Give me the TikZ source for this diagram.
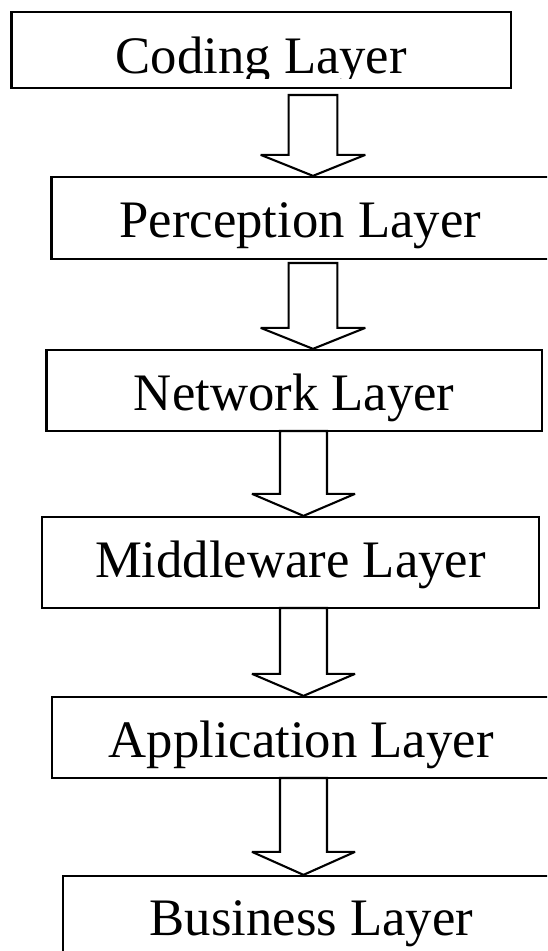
\documentclass[tikz,border=0pt]{standalone}
\usepackage{fontspec}
\setmainfont{Liberation Serif}
\usetikzlibrary{calc}
\tikzset{
  layerbox/.style={draw=black, line width=2.3pt, inner sep=0pt, fill=white,
    font=\fontsize{52.7}{60}\selectfont, text depth=0pt, text height=#1},
  layerbox/.default=38pt,
  layertext/.style={inner sep=0pt, font=\fontsize{52.7}{60}\selectfont,
    text depth=0pt, text height=#1},
  barrow/.style={draw=black, line width=2.1pt, line join=miter, miter limit=3, fill=white},
}
\newcommand{\blockarrow}[5]{%
  \draw[barrow] let \p1=(#1), \p2=(#2) in
    (\x1-#3,\y1) -- (\x1-#3,\y2+#5) -- (\x1-#4,\y2+#5) -- (\x1,\y2)
    -- (\x1+#4,\y2+#5) -- (\x1+#3,\y2+#5) -- (\x1+#3,\y1) -- cycle;}
\begin{document}
\begin{tikzpicture}[x=1pt,y=-1pt]
\useasboundingbox[fill=white] (0,0) rectangle (547,951);
\begin{scope}
\clip (0,0) rectangle (547,951);
% layer boxes
\node[layerbox=46pt, minimum width=499.5pt, minimum height=76pt] (b1) at (261.25,50) {};
\node[layerbox=38pt, minimum width=497.4pt, minimum height=82pt] (b2) at (300.3,218) {Perception Layer};
\node[layerbox=39pt, minimum width=495.6pt, minimum height=81pt] (b3) at (294.2,390.5) {Network Layer};
\node[layerbox=30pt, minimum width=497.1pt, minimum height=91pt] (b4) at (290.45,562.5) {Middleware Layer};
\node[layerbox=39pt, minimum width=497.7pt, minimum height=81pt] (b5) at (301.15,737.5) {Application Layer};
\node[layerbox=32pt, minimum width=497.2pt, minimum height=86pt] (b6) at (311.4,919) {Business Layer};
% arrow tops
\coordinate (a1) at (313,95);
\coordinate (a2) at (313,263);
\coordinate (a3) at (303.5,431);
\coordinate (a4) at (303.5,608);
\coordinate (a5) at (303.5,778);
\blockarrow{a1}{a1 |- b2.north}{24.4pt}{52.3pt}{21pt}
\blockarrow{a2}{a2 |- b3.north}{24.4pt}{52.3pt}{21pt}
\blockarrow{a3}{a3 |- b4.north}{23.5pt}{51.5pt}{22pt}
\blockarrow{a4}{a4 |- b5.north}{23.5pt}{51.5pt}{22pt}
\blockarrow{a5}{a5 |- b6.north}{23.5pt}{51.5pt}{23pt}
\end{scope}
% Coding label, descenders cut as in the reference
\begin{scope}
\clip (0,0) rectangle (547,78.5);
\node[layertext=46pt] (t1) at (b1.center) {Coding Layer};
\end{scope}
\end{tikzpicture}
\end{document}
